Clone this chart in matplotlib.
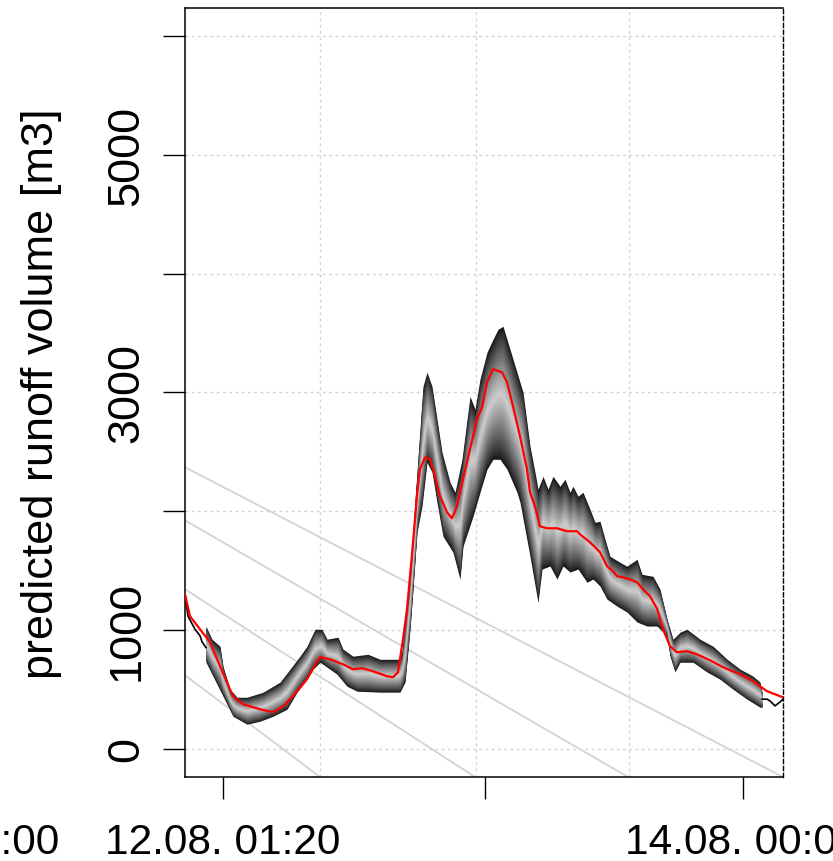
import numpy as np
import matplotlib
matplotlib.use("Agg")
import matplotlib.pyplot as plt

plt.rcParams['font.family'] = ['Liberation Sans', 'DejaVu Sans']

# x = time step (10 min) counted from the left edge of the plot
# median of the ensemble (red)
med_t = [0, 5, 15, 25, 35, 42, 48, 58, 75, 88, 98, 108, 122, 132, 135, 145, 158, 168,
         177, 188, 202, 208, 213, 218, 222, 227, 230, 232, 235, 240, 245, 250, 255, 262,
         267, 272, 278, 285, 292, 297, 302, 308, 317, 322, 328, 335, 342, 345, 350,
         355, 362, 372, 382, 392, 395, 405, 415, 422, 428, 432, 438, 445, 452, 458, 465,
         472, 478, 485, 492, 502, 512, 525, 538, 555, 568, 582, 595, 598]
med_v = [1300, 1115, 1005, 896, 693, 559, 441, 373, 331, 306, 356, 441, 584, 735, 769, 752,
         710, 668, 677, 651, 609, 601, 643, 921, 1174, 1637, 1932, 2142, 2353, 2454, 2437,
         2294, 2126, 1991, 1940, 2041, 2269, 2522, 2774, 2875, 3086, 3196, 3170, 3086, 2884,
         2631, 2353, 2159, 2041, 1873, 1856, 1856, 1831, 1831, 1805, 1738, 1654, 1536,
         1494, 1452, 1443, 1426, 1401, 1342, 1283, 1180, 1005, 862, 811, 820, 794, 744, 685,
         626, 567, 483, 441, 432]

# upper envelope of the ensemble
up_t = [21, 27, 35, 38, 45, 52, 62, 78, 95, 105, 115, 122, 130, 137, 142, 153, 158, 168,
        183, 195, 213, 217, 225, 232, 238, 242, 247, 252, 257, 265, 270, 277, 285, 290, 295,
        302, 308, 313, 318, 322, 328, 338, 345, 350, 353, 358, 363, 368, 375, 380, 385, 388,
        393, 398, 405, 410, 415, 420, 425, 435, 442, 452, 457, 468, 475, 482, 488, 495, 502,
        515, 528, 542, 555, 568, 575, 577]
up_v = [1030, 921, 862, 693, 500, 432, 432, 474, 559, 668, 778, 862, 1005, 1005, 921, 938,
        837, 778, 794, 752, 752, 811, 1485, 2328, 3052, 3170, 3052, 2774, 2496, 2244, 2159,
        2437, 2968, 2859, 3111, 3339, 3448, 3533, 3558, 3448, 3280, 3002, 2547, 2328, 2185,
        2294, 2185, 2294, 2210, 2269, 2159, 2210, 2126, 2159, 2016, 1906, 1915, 1763, 1620,
        1569, 1536, 1595, 1468, 1451, 1342, 1090, 921, 980, 1005, 921, 862, 753, 669, 610,
        559, 474]

# lower envelope of the ensemble
lo_t = [21, 28, 38, 48, 62, 75, 88, 102, 112, 122, 128, 135, 145, 152, 162, 172, 195, 215,
        220, 225, 228, 232, 237, 242, 247, 252, 258, 268, 275, 278, 288, 295, 302, 308, 315,
        322, 332, 335, 345, 353, 357, 365, 372, 378, 385, 393, 402, 408, 415, 422, 432, 442,
        452, 462, 472, 482, 485, 490, 495, 508, 522, 535, 548, 562, 575, 577]
lo_v = [727, 609, 441, 272, 205, 230, 272, 331, 474, 584, 668, 727, 668, 626, 525, 483,
        475, 475, 559, 1005, 1342, 1822, 2041, 2412, 2328, 2075, 1789, 1654, 1426, 1704,
        1957, 2159, 2353, 2437, 2437, 2353, 2159, 2075, 1620, 1230, 1512, 1538, 1428, 1538,
        1487, 1512, 1401, 1428, 1369, 1259, 1200, 1150, 1066, 1032, 1032, 948, 780, 645,
        727, 727, 645, 584, 500, 416, 348, 348]

# observed runoff (black), visible outside the ensemble
obs_t1 = [0, 3, 10, 15, 17, 21]
obs_v1 = [1300, 1115, 1005, 950, 900, 850]
obs_t2 = [577, 582, 585, 590, 595, 598]
obs_v2 = [416, 416, 401, 359, 392, 416]

# grey reference lines: value at the left edge, step where they reach the bottom
ref_start = [2370, 1923, 1342, 618]
ref_end = [598, 443, 290, 135]

x_ticks = [38, 300, 558]
x_ticklabels = ['12.08. 01:20', '', '14.08. 00:00']
x_offlabel_t = -242
x_offlabel = '11.08. 00:00'
x_grid = [135, 291, 444, 598]
y_ticks = [0, 1000, 2000, 3000, 4000, 5000, 6000]
y_ticklabels = ['0', '1000', '', '3000', '', '5000', '']

xmin, xmax = 0, 598
ymin, ymax = -240, 6240
fs = 30.5
fs_y = 32.5

fig = plt.figure(figsize=(8.33, 8.62), dpi=100)
ax = fig.add_axes([185 / 833, 1 - 778 / 862, 598 / 833, 769 / 862])
ax.set_xlim(xmin, xmax)
ax.set_ylim(ymin, ymax)

# grid
for g in x_grid:
    ax.axvline(g, color='#d3d3d3', lw=1.0, dashes=(2, 2.5), zorder=1)
for g in y_ticks:
    ax.axhline(g, color='#d3d3d3', lw=1.0, dashes=(2, 2.5), zorder=1)

# reference lines
for v0, x1 in zip(ref_start, ref_end):
    ax.plot([0, x1], [v0, ymin], color='#d3d3d3', lw=1.3, zorder=2)

# ensemble fan: dark outside, light inside
xs = np.arange(up_t[0], up_t[-1] + 1)
up = np.interp(xs, up_t, up_v)
lo = np.interp(xs, lo_t, lo_v)
mid = (up + lo) / 2
n = 16
for i in range(n):
    f = i / n
    g = 0.11 + 0.68 * (i / (n - 1)) ** 0.9
    ax.fill_between(xs, lo + f * (mid - lo), up - f * (up - mid),
                    color=(g, g, g), lw=0, zorder=3)

ax.plot(obs_t1, obs_v1, color='black', lw=1.2, zorder=4)
ax.plot(obs_t2, obs_v2, color='black', lw=1.2, zorder=4)
ax.plot(med_t, med_v, color='red', lw=1.6, zorder=5)

# axes styling
for s in ['left', 'top', 'bottom']:
    ax.spines[s].set_linewidth(1.1)
ax.spines['right'].set_linestyle((0, (3, 2)))
ax.spines['right'].set_linewidth(1.0)

ax.set_xticks(x_ticks)
ax.set_xticklabels(x_ticklabels, fontsize=fs)
ax.set_yticks(y_ticks)
ax.set_yticklabels(y_ticklabels, fontsize=fs_y, rotation=90, va='center')
ax.tick_params(axis='both', direction='out', length=16, width=1.0)
ax.tick_params(axis='x', pad=16.5)
ax.tick_params(axis='y', pad=11)

ax.annotate(x_offlabel, xy=(x_offlabel_t, 0), xycoords=('data', 'axes fraction'),
            xytext=(0, -32.5), textcoords='offset points', ha='center', va='top',
            fontsize=fs, annotation_clip=False)

fig.text(42 / 833, 1 - 394 / 862, 'predicted runoff volume [m3]', rotation=90,
         ha='center', va='center', fontsize=fs_y)

fig.savefig('out.png', dpi=100)
